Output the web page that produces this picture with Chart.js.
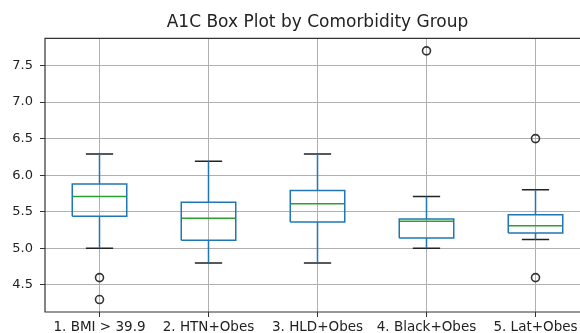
<!DOCTYPE html>
<html>
<head>
<meta charset="utf-8">
<script src="https://cdn.jsdelivr.net/npm/chart.js@4"></script>
<style>
  body { margin: 0; overflow: hidden; background: #fff; }
  canvas { display: block; }
</style>
</head>
<body>
<canvas id="boxChart" width="600" height="333"></canvas>
<script>
// data
const categories = ['1. BMI > 39.9', '2. HTN+Obes', '3. HLD+Obes', '4. Black+Obes', '5. Lat+Obes'];
const whiskerLow = [5.0, 4.8, 4.8, 5.0, 5.12];
const q1 = [5.44, 5.11, 5.36, 5.14, 5.21];
const median = [5.71, 5.41, 5.61, 5.37, 5.31];
const q3 = [5.88, 5.63, 5.79, 5.40, 5.46];
const whiskerHigh = [6.29, 6.19, 6.29, 5.71, 5.80];
const outliers = [[4.6, 4.3], [], [], [7.7], [6.5, 4.6]];
const yTicks = [4.5, 5.0, 5.5, 6.0, 6.5, 7.0, 7.5];

const BOX_HALF = 0.25;
const CAP_HALF = 0.125;
const gap = (x) => ({x: x, y: null});

let boxPts = [];
let whiskerPts = [];
let capPts = [];
let medianPts = [];
let flierPts = [];

categories.forEach((name, i) => {
  const x = i + 1;
  boxPts.push({x: x - BOX_HALF, y: q1[i]}, {x: x + BOX_HALF, y: q1[i]},
    {x: x + BOX_HALF, y: q3[i]}, {x: x - BOX_HALF, y: q3[i]}, {x: x - BOX_HALF, y: q1[i]}, gap(x));
  whiskerPts.push({x: x, y: q1[i]}, {x: x, y: whiskerLow[i]}, gap(x),
    {x: x, y: q3[i]}, {x: x, y: whiskerHigh[i]}, gap(x));
  capPts.push({x: x - CAP_HALF, y: whiskerLow[i]}, {x: x + CAP_HALF, y: whiskerLow[i]}, gap(x),
    {x: x - CAP_HALF, y: whiskerHigh[i]}, {x: x + CAP_HALF, y: whiskerHigh[i]}, gap(x));
  medianPts.push({x: x - BOX_HALF, y: median[i]}, {x: x + BOX_HALF, y: median[i]}, gap(x));
  outliers[i].forEach((v) => flierPts.push({x: x, y: v}));
});

const lineSet = (data, color) => ({
  data: data,
  showLine: true,
  borderColor: color,
  borderWidth: 1.5,
  pointRadius: 0,
  spanGaps: false,
  tension: 0,
  borderJoinStyle: 'miter',
  borderCapStyle: 'butt',
});

// axes frame like matplotlib (the right spine falls outside the view)
const framePlugin = {
  id: 'frame',
  afterDraw(chart) {
    const {ctx, chartArea: a} = chart;
    ctx.save();
    ctx.strokeStyle = '#333';
    ctx.lineWidth = 1.2;
    ctx.beginPath();
    ctx.moveTo(a.right, a.top);
    ctx.lineTo(a.left, a.top);
    ctx.lineTo(a.left, a.bottom);
    ctx.lineTo(a.right, a.bottom);
    ctx.stroke();
    ctx.restore();
  }
};

Chart.defaults.font.family = '"DejaVu Sans", sans-serif';
Chart.defaults.color = '#222';

const ctx = document.getElementById('boxChart');

var boxChart = new Chart(ctx, {
  type: 'scatter',
  data: {
    datasets: [
      lineSet(boxPts, '#1f77b4'),
      lineSet(whiskerPts, '#1f77b4'),
      lineSet(capPts, '#222'),
      lineSet(medianPts, '#2ca02c'),
      {
        data: flierPts,
        showLine: false,
        pointStyle: 'circle',
        pointRadius: 4,
        pointBorderWidth: 1.6,
        pointBorderColor: '#333',
        pointBackgroundColor: 'rgba(0,0,0,0)',
      },
    ]
  },
  options: {
    responsive: false,
    animation: false,
    layout: {padding: {left: 0, right: 10, top: 0, bottom: 0}},
    plugins: {
      legend: {display: false},
      tooltip: {enabled: false},
      title: {
        display: true,
        fullSize: false, // centre over the plot, not the whole canvas
        text: 'A1C Box Plot by Comorbidity Group',
        color: '#222',
        font: {size: 17, weight: 'normal'},
        padding: {top: 12, bottom: 6},
      },
    },
    scales: {
      x: {
        type: 'linear',
        min: 0.5,
        max: 5.5,
        afterBuildTicks: (scale) => {
          scale.ticks = categories.map((c, i) => ({value: i + 1}));
        },
        afterFit: (scale) => { scale.height = 21; },
        ticks: {
          autoSkip: false,
          maxRotation: 0,
          padding: 2,
          font: {size: 13.5},
          callback: (v) => categories[Math.round(v) - 1],
        },
        grid: {color: '#b0b0b0', lineWidth: 1, tickLength: 5, tickColor: '#333'},
        border: {display: false},
      },
      y: {
        min: 4.13,
        max: 7.87,
        afterBuildTicks: (scale) => {
          scale.ticks = yTicks.map((v) => ({value: v}));
        },
        afterFit: (scale) => { scale.width = 45; },
        ticks: {
          padding: 7,
          font: {size: 13},
          callback: (v) => v.toFixed(1),
        },
        grid: {color: '#b0b0b0', lineWidth: 1, tickLength: 5, tickColor: '#333'},
        border: {display: false},
      },
    },
  },
  plugins: [framePlugin],
});
</script>
</body>
</html>
